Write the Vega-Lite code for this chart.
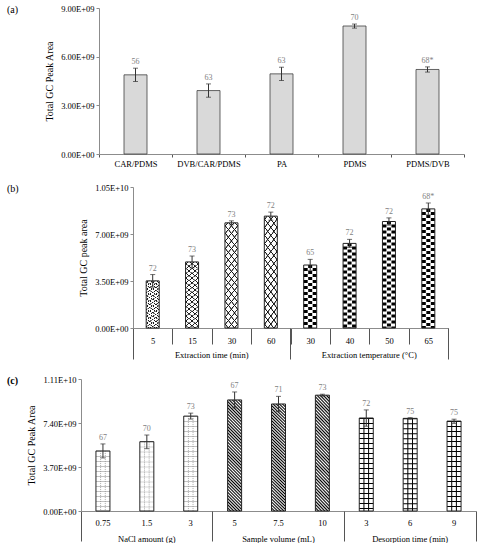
{
  "$schema": "https://vega.github.io/schema/vega-lite/v6.json",
  "padding": {"left": 7, "top": 4, "right": 0, "bottom": 0},
  "background": "white",
  "datasets": {
    "fibre": [
      {"key": "CAR/PDMS", "value": 4.88e9, "lo": 4.47e9, "hi": 5.29e9, "note": "56"},
      {"key": "DVB/CAR/PDMS", "value": 3.91e9, "lo": 3.50e9, "hi": 4.32e9, "note": "63"},
      {"key": "PA", "value": 4.94e9, "lo": 4.53e9, "hi": 5.35e9, "note": "63"},
      {"key": "PDMS", "value": 7.89e9, "lo": 7.76e9, "hi": 8.01e9, "note": "70"},
      {"key": "PDMS/DVB", "value": 5.21e9, "lo": 5.05e9, "hi": 5.37e9, "note": "68*"}
    ],
    "extraction": [
      {"key": "Extraction time (min)|5", "group": "time", "value": 3.51e9, "lo": 3.04e9, "hi": 3.98e9, "note": "72"},
      {"key": "Extraction time (min)|15", "group": "time", "value": 4.92e9, "lo": 4.48e9, "hi": 5.36e9, "note": "73"},
      {"key": "Extraction time (min)|30", "group": "time", "value": 7.83e9, "lo": 7.68e9, "hi": 7.98e9, "note": "73"},
      {"key": "Extraction time (min)|60", "group": "time", "value": 8.33e9, "lo": 8.03e9, "hi": 8.63e9, "note": "72"},
      {"key": "Extraction temperature (°C)|30", "group": "temp", "value": 4.69e9, "lo": 4.27e9, "hi": 5.11e9, "note": "65"},
      {"key": "Extraction temperature (°C)|40", "group": "temp", "value": 6.30e9, "lo": 6.00e9, "hi": 6.60e9, "note": "72"},
      {"key": "Extraction temperature (°C)|50", "group": "temp", "value": 7.93e9, "lo": 7.66e9, "hi": 8.20e9, "note": "72"},
      {"key": "Extraction temperature (°C)|65", "group": "temp", "value": 8.87e9, "lo": 8.43e9, "hi": 9.31e9, "note": "68*"}
    ],
    "conditions": [
      {"key": "NaCl amount (g)|0.75", "group": "nacl", "value": 5.05e9, "lo": 4.46e9, "hi": 5.64e9, "note": "67"},
      {"key": "NaCl amount (g)|1.5", "group": "nacl", "value": 5.83e9, "lo": 5.24e9, "hi": 6.39e9, "note": "70"},
      {"key": "NaCl amount (g)|3", "group": "nacl", "value": 7.98e9, "lo": 7.73e9, "hi": 8.23e9, "note": "73"},
      {"key": "Sample volume (mL)|5", "group": "volume", "value": 9.34e9, "lo": 8.67e9, "hi": 10.01e9, "note": "67"},
      {"key": "Sample volume (mL)|7.5", "group": "volume", "value": 9.00e9, "lo": 8.36e9, "hi": 9.64e9, "note": "71"},
      {"key": "Sample volume (mL)|10", "group": "volume", "value": 9.74e9, "lo": 9.66e9, "hi": 9.82e9, "note": "73"},
      {"key": "Desorption time (min)|3", "group": "desorption", "value": 7.82e9, "lo": 7.13e9, "hi": 8.50e9, "note": "72"},
      {"key": "Desorption time (min)|6", "group": "desorption", "value": 7.79e9, "lo": 7.72e9, "hi": 7.85e9, "note": "75"},
      {"key": "Desorption time (min)|9", "group": "desorption", "value": 7.56e9, "lo": 7.37e9, "hi": 7.72e9, "note": "75"}
    ]
  },
  "concat": [
    {
      "width": 383,
      "height": 146,
      "title": {"text": "(a)"},
      "data": {"name": "fibre"},
      "resolve": {"axis": {"x": "independent", "y": "independent"}},
      "layer": [
        {
          "mark": {"type": "bar", "width": 23, "fill": "#d9d9d9", "stroke": "#404040", "strokeWidth": 0.8},
          "encoding": {
            "x": {"field": "key", "type": "nominal", "sort": null,
              "scale": {"range": [18, 383], "paddingInner": 0, "paddingOuter": 0},
              "axis": {"orient": "bottom", "title": null, "labelAngle": 0, "tickBand": "extent", "tickSize": 3, "labelPadding": 2}},
            "y": {"field": "value", "type": "quantitative",
              "scale": {"domain": [0, 9e9], "nice": false},
              "axis": {"orient": "left", "offset": -18, "title": "Total GC Peak Area", "values": [0, 3e9, 6e9, 9e9],
                "labelExpr": "upper(replace(format(datum.value, '.2e'), regexp('e[+]([0-9])$'), 'e+0$1'))"}}
          }
        },
        {
          "mark": {"type": "errorbar", "color": "#333", "thickness": 1, "size": 5, "ticks": true},
          "encoding": {
            "x": {"field": "key", "type": "nominal", "sort": null, "axis": null},
            "y": {"field": "lo", "type": "quantitative", "axis": null},
            "y2": {"field": "hi"}
          }
        },
        {
          "mark": {"type": "text", "baseline": "bottom", "dy": -2, "fontSize": 8, "color": "#7f7f7f"},
          "encoding": {
            "x": {"field": "key", "type": "nominal", "sort": null, "axis": null},
            "y": {"field": "hi", "type": "quantitative", "axis": null},
            "text": {"field": "note"}
          }
        }
      ]
    },
    {
      "width": 367,
      "height": 141,
      "title": {"text": "(b)"},
      "data": {"name": "extraction"},
      "resolve": {"axis": {"x": "independent", "y": "independent"}},
      "layer": [
        {
          "mark": {"type": "bar", "width": 13, "fill": "#ffffff"},
          "encoding": {
            "x": {"field": "key", "type": "nominal",
              "scale": {"domain": ["Extraction time (min)|5", "Extraction time (min)|15", "Extraction time (min)|30", "Extraction time (min)|60", "Extraction temperature (°C)|30", "Extraction temperature (°C)|40", "Extraction temperature (°C)|50", "Extraction temperature (°C)|65"], "range": [52, 367], "paddingInner": 0, "paddingOuter": 0},
              "axis": {"orient": "bottom", "title": null, "labelAngle": 0, "labelExpr": "split(datum.value, '|')[1]", "tickBand": "extent", "tickSize": 16, "labelPadding": -8}},
            "y": {"field": "value", "type": "quantitative",
              "scale": {"domain": [0, 1.05e10], "nice": false},
              "axis": {"orient": "left", "offset": -52, "title": "Total GC peak area", "values": [0, 3.5e9, 7e9, 1.05e10],
                "labelExpr": "upper(replace(format(datum.value, '.2e'), regexp('e[+]([0-9])$'), 'e+0$1'))"}}
          }
        },
        {
          "transform": [{"filter": "datum.group === 'time'"}],
          "mark": {"type": "bar", "width": 13, "fill": {"gradient": "linear", "x1": 0, "y1": 0, "x2": 0.172, "y2": 1.127, "stops": [
            {"offset": 0, "color": "rgba(0,0,0,0)"},
            {"offset": 0.02, "color": "rgba(0,0,0,0)"}, {"offset": 0.025, "color": "#1a1a1a"}, {"offset": 0.031, "color": "#1a1a1a"}, {"offset": 0.036, "color": "rgba(0,0,0,0)"},
            {"offset": 0.0825, "color": "rgba(0,0,0,0)"}, {"offset": 0.0875, "color": "#1a1a1a"}, {"offset": 0.0935, "color": "#1a1a1a"}, {"offset": 0.0985, "color": "rgba(0,0,0,0)"},
            {"offset": 0.145, "color": "rgba(0,0,0,0)"}, {"offset": 0.15, "color": "#1a1a1a"}, {"offset": 0.156, "color": "#1a1a1a"}, {"offset": 0.161, "color": "rgba(0,0,0,0)"},
            {"offset": 0.2075, "color": "rgba(0,0,0,0)"}, {"offset": 0.2125, "color": "#1a1a1a"}, {"offset": 0.2185, "color": "#1a1a1a"}, {"offset": 0.2235, "color": "rgba(0,0,0,0)"},
            {"offset": 0.27, "color": "rgba(0,0,0,0)"}, {"offset": 0.275, "color": "#1a1a1a"}, {"offset": 0.281, "color": "#1a1a1a"}, {"offset": 0.286, "color": "rgba(0,0,0,0)"},
            {"offset": 0.3325, "color": "rgba(0,0,0,0)"}, {"offset": 0.3375, "color": "#1a1a1a"}, {"offset": 0.3435, "color": "#1a1a1a"}, {"offset": 0.3485, "color": "rgba(0,0,0,0)"},
            {"offset": 0.395, "color": "rgba(0,0,0,0)"}, {"offset": 0.4, "color": "#1a1a1a"}, {"offset": 0.406, "color": "#1a1a1a"}, {"offset": 0.411, "color": "rgba(0,0,0,0)"},
            {"offset": 0.4575, "color": "rgba(0,0,0,0)"}, {"offset": 0.4625, "color": "#1a1a1a"}, {"offset": 0.4685, "color": "#1a1a1a"}, {"offset": 0.4735, "color": "rgba(0,0,0,0)"},
            {"offset": 0.52, "color": "rgba(0,0,0,0)"}, {"offset": 0.525, "color": "#1a1a1a"}, {"offset": 0.531, "color": "#1a1a1a"}, {"offset": 0.536, "color": "rgba(0,0,0,0)"},
            {"offset": 0.5825, "color": "rgba(0,0,0,0)"}, {"offset": 0.5875, "color": "#1a1a1a"}, {"offset": 0.5935, "color": "#1a1a1a"}, {"offset": 0.5985, "color": "rgba(0,0,0,0)"},
            {"offset": 0.645, "color": "rgba(0,0,0,0)"}, {"offset": 0.65, "color": "#1a1a1a"}, {"offset": 0.656, "color": "#1a1a1a"}, {"offset": 0.661, "color": "rgba(0,0,0,0)"},
            {"offset": 0.7075, "color": "rgba(0,0,0,0)"}, {"offset": 0.7125, "color": "#1a1a1a"}, {"offset": 0.7185, "color": "#1a1a1a"}, {"offset": 0.7235, "color": "rgba(0,0,0,0)"},
            {"offset": 0.77, "color": "rgba(0,0,0,0)"}, {"offset": 0.775, "color": "#1a1a1a"}, {"offset": 0.781, "color": "#1a1a1a"}, {"offset": 0.786, "color": "rgba(0,0,0,0)"},
            {"offset": 0.8325, "color": "rgba(0,0,0,0)"}, {"offset": 0.8375, "color": "#1a1a1a"}, {"offset": 0.8435, "color": "#1a1a1a"}, {"offset": 0.8485, "color": "rgba(0,0,0,0)"},
            {"offset": 0.895, "color": "rgba(0,0,0,0)"}, {"offset": 0.9, "color": "#1a1a1a"}, {"offset": 0.906, "color": "#1a1a1a"}, {"offset": 0.911, "color": "rgba(0,0,0,0)"},
            {"offset": 0.9575, "color": "rgba(0,0,0,0)"}, {"offset": 0.9625, "color": "#1a1a1a"}, {"offset": 0.9685, "color": "#1a1a1a"}, {"offset": 0.9735, "color": "rgba(0,0,0,0)"},
            {"offset": 1, "color": "rgba(0,0,0,0)"}
          ]}},
          "encoding": {
            "x": {"field": "key", "type": "nominal",
              "axis": {"orient": "bottom", "title": null, "values": ["Extraction time (min)|5", "Extraction temperature (°C)|30"], "bandPosition": 0, "labels": false, "domain": false, "tickSize": 31}},
            "y": {"field": "value", "type": "quantitative", "axis": null}
          }
        },
        {
          "transform": [{"filter": "datum.group === 'time'"}],
          "mark": {"type": "bar", "width": 13, "fill": {"gradient": "linear", "x1": 1, "y1": 0, "x2": 0.828, "y2": 1.127, "stops": [
            {"offset": 0, "color": "rgba(0,0,0,0)"},
            {"offset": 0.02, "color": "rgba(0,0,0,0)"}, {"offset": 0.025, "color": "#1a1a1a"}, {"offset": 0.031, "color": "#1a1a1a"}, {"offset": 0.036, "color": "rgba(0,0,0,0)"},
            {"offset": 0.0825, "color": "rgba(0,0,0,0)"}, {"offset": 0.0875, "color": "#1a1a1a"}, {"offset": 0.0935, "color": "#1a1a1a"}, {"offset": 0.0985, "color": "rgba(0,0,0,0)"},
            {"offset": 0.145, "color": "rgba(0,0,0,0)"}, {"offset": 0.15, "color": "#1a1a1a"}, {"offset": 0.156, "color": "#1a1a1a"}, {"offset": 0.161, "color": "rgba(0,0,0,0)"},
            {"offset": 0.2075, "color": "rgba(0,0,0,0)"}, {"offset": 0.2125, "color": "#1a1a1a"}, {"offset": 0.2185, "color": "#1a1a1a"}, {"offset": 0.2235, "color": "rgba(0,0,0,0)"},
            {"offset": 0.27, "color": "rgba(0,0,0,0)"}, {"offset": 0.275, "color": "#1a1a1a"}, {"offset": 0.281, "color": "#1a1a1a"}, {"offset": 0.286, "color": "rgba(0,0,0,0)"},
            {"offset": 0.3325, "color": "rgba(0,0,0,0)"}, {"offset": 0.3375, "color": "#1a1a1a"}, {"offset": 0.3435, "color": "#1a1a1a"}, {"offset": 0.3485, "color": "rgba(0,0,0,0)"},
            {"offset": 0.395, "color": "rgba(0,0,0,0)"}, {"offset": 0.4, "color": "#1a1a1a"}, {"offset": 0.406, "color": "#1a1a1a"}, {"offset": 0.411, "color": "rgba(0,0,0,0)"},
            {"offset": 0.4575, "color": "rgba(0,0,0,0)"}, {"offset": 0.4625, "color": "#1a1a1a"}, {"offset": 0.4685, "color": "#1a1a1a"}, {"offset": 0.4735, "color": "rgba(0,0,0,0)"},
            {"offset": 0.52, "color": "rgba(0,0,0,0)"}, {"offset": 0.525, "color": "#1a1a1a"}, {"offset": 0.531, "color": "#1a1a1a"}, {"offset": 0.536, "color": "rgba(0,0,0,0)"},
            {"offset": 0.5825, "color": "rgba(0,0,0,0)"}, {"offset": 0.5875, "color": "#1a1a1a"}, {"offset": 0.5935, "color": "#1a1a1a"}, {"offset": 0.5985, "color": "rgba(0,0,0,0)"},
            {"offset": 0.645, "color": "rgba(0,0,0,0)"}, {"offset": 0.65, "color": "#1a1a1a"}, {"offset": 0.656, "color": "#1a1a1a"}, {"offset": 0.661, "color": "rgba(0,0,0,0)"},
            {"offset": 0.7075, "color": "rgba(0,0,0,0)"}, {"offset": 0.7125, "color": "#1a1a1a"}, {"offset": 0.7185, "color": "#1a1a1a"}, {"offset": 0.7235, "color": "rgba(0,0,0,0)"},
            {"offset": 0.77, "color": "rgba(0,0,0,0)"}, {"offset": 0.775, "color": "#1a1a1a"}, {"offset": 0.781, "color": "#1a1a1a"}, {"offset": 0.786, "color": "rgba(0,0,0,0)"},
            {"offset": 0.8325, "color": "rgba(0,0,0,0)"}, {"offset": 0.8375, "color": "#1a1a1a"}, {"offset": 0.8435, "color": "#1a1a1a"}, {"offset": 0.8485, "color": "rgba(0,0,0,0)"},
            {"offset": 0.895, "color": "rgba(0,0,0,0)"}, {"offset": 0.9, "color": "#1a1a1a"}, {"offset": 0.906, "color": "#1a1a1a"}, {"offset": 0.911, "color": "rgba(0,0,0,0)"},
            {"offset": 0.9575, "color": "rgba(0,0,0,0)"}, {"offset": 0.9625, "color": "#1a1a1a"}, {"offset": 0.9685, "color": "#1a1a1a"}, {"offset": 0.9735, "color": "rgba(0,0,0,0)"},
            {"offset": 1, "color": "rgba(0,0,0,0)"}
          ]}},
          "encoding": {
            "x": {"field": "key", "type": "nominal",
              "axis": {"orient": "bottom", "title": null, "values": ["Extraction temperature (°C)|65"], "bandPosition": 1, "labels": false, "domain": false, "tickSize": 31}},
            "y": {"field": "value", "type": "quantitative", "axis": null}
          }
        },
        {
          "transform": [{"filter": "datum.group === 'temp'"}],
          "mark": {"type": "rule", "color": "#000", "strokeWidth": 4, "strokeDash": [3, 3]},
          "encoding": {
            "x": {"field": "key", "type": "nominal", "axis": null},
            "y": {"field": "value", "type": "quantitative", "axis": null},
            "y2": {"datum": 0}
          }
        },
        {
          "transform": [{"filter": "datum.group === 'temp'"}],
          "mark": {"type": "rule", "color": "#000", "strokeWidth": 4, "strokeDash": [3, 3], "strokeDashOffset": 3, "xOffset": -4.5},
          "encoding": {
            "x": {"field": "key", "type": "nominal", "axis": null},
            "y": {"field": "value", "type": "quantitative", "axis": null},
            "y2": {"datum": 0}
          }
        },
        {
          "transform": [{"filter": "datum.group === 'temp'"}],
          "mark": {"type": "rule", "color": "#000", "strokeWidth": 4, "strokeDash": [3, 3], "strokeDashOffset": 3, "xOffset": 4.5},
          "encoding": {
            "x": {"field": "key", "type": "nominal", "axis": null},
            "y": {"field": "value", "type": "quantitative", "axis": null},
            "y2": {"datum": 0}
          }
        },
        {
          "mark": {"type": "bar", "width": 13, "fill": "#ffffff", "fillOpacity": 0, "stroke": "#222", "strokeWidth": 1},
          "encoding": {
            "x": {"field": "key", "type": "nominal", "axis": null},
            "y": {"field": "value", "type": "quantitative", "axis": null}
          }
        },
        {
          "mark": {"type": "errorbar", "color": "#333", "thickness": 1, "size": 5, "ticks": true},
          "encoding": {
            "x": {"field": "key", "type": "nominal", "axis": null},
            "y": {"field": "lo", "type": "quantitative", "axis": null},
            "y2": {"field": "hi"}
          }
        },
        {
          "mark": {"type": "text", "baseline": "bottom", "dy": -2, "fontSize": 8, "color": "#7f7f7f"},
          "encoding": {
            "x": {"field": "key", "type": "nominal",
              "axis": {"orient": "bottom", "title": null, "labelAngle": 0, "values": ["Extraction time (min)|30", "Extraction temperature (°C)|50"], "labelExpr": "split(datum.value, '|')[0]", "labelOffset": -19.7, "labelOverlap": false, "ticks": false, "tickSize": 0, "domain": false, "labelPadding": 22.5}},
            "y": {"field": "hi", "type": "quantitative", "axis": null},
            "text": {"field": "note"}
          }
        }
      ]
    },
    {
      "width": 395,
      "height": 132,
      "title": {"text": "(c)", "fontWeight": "bold"},
      "data": {"name": "conditions"},
      "resolve": {"axis": {"x": "independent", "y": "independent"}},
      "layer": [
        {
          "mark": {"type": "bar", "width": 14, "fill": "#ffffff"},
          "encoding": {
            "x": {"field": "key", "type": "nominal",
              "scale": {"domain": ["NaCl amount (g)|0.75", "NaCl amount (g)|1.5", "NaCl amount (g)|3", "Sample volume (mL)|5", "Sample volume (mL)|7.5", "Sample volume (mL)|10", "Desorption time (min)|3", "Desorption time (min)|6", "Desorption time (min)|9"], "paddingInner": 0, "paddingOuter": 0},
              "axis": {"orient": "bottom", "title": null, "labelAngle": 0, "labelExpr": "split(datum.value, '|')[1]", "ticks": false, "tickSize": 0, "labelPadding": 7.6}},
            "y": {"field": "value", "type": "quantitative",
              "scale": {"domain": [0, 1.11e10], "nice": false},
              "axis": {"orient": "left", "title": "Total GC Peak Area", "values": [0, 3.7e9, 7.4e9, 1.11e10],
                "labelExpr": "upper(replace(format(datum.value, '.2e'), regexp('e[+]([0-9])$'), 'e+0$1'))"}}
          }
        },
        {
          "transform": [{"filter": "datum.group === 'nacl'"}],
          "mark": {"type": "rule", "color": "#b0b0b0", "strokeWidth": 14, "strokeDash": [0.7, 4.3]},
          "encoding": {
            "x": {"field": "key", "type": "nominal", "axis": null},
            "y": {"field": "value", "type": "quantitative", "axis": null},
            "y2": {"datum": 0}
          }
        },
        {
          "transform": [{"filter": "datum.group === 'nacl'"}],
          "mark": {"type": "rule", "color": "#888", "strokeWidth": 0.7, "strokeDash": [1, 1], "xOffset": -2.33},
          "encoding": {
            "x": {"field": "key", "type": "nominal", "axis": null},
            "y": {"field": "value", "type": "quantitative", "axis": null},
            "y2": {"datum": 0}
          }
        },
        {
          "transform": [{"filter": "datum.group === 'nacl'"}],
          "mark": {"type": "rule", "color": "#888", "strokeWidth": 0.7, "strokeDash": [1, 1], "xOffset": 2.33},
          "encoding": {
            "x": {"field": "key", "type": "nominal", "axis": null},
            "y": {"field": "value", "type": "quantitative", "axis": null},
            "y2": {"datum": 0}
          }
        },
        {
          "transform": [{"filter": "datum.group === 'volume'"}],
          "mark": {"type": "bar", "width": 14, "fill": {"gradient": "linear", "x1": 1, "y1": 0, "x2": 0.859, "y2": 1.109, "stops": [
            {"offset": 0, "color": "#000"}, {"offset": 0.0125, "color": "#fff"}, {"offset": 0.025, "color": "#000"}, {"offset": 0.0375, "color": "#fff"},
            {"offset": 0.05, "color": "#000"}, {"offset": 0.0625, "color": "#fff"}, {"offset": 0.075, "color": "#000"}, {"offset": 0.0875, "color": "#fff"},
            {"offset": 0.1, "color": "#000"}, {"offset": 0.1125, "color": "#fff"}, {"offset": 0.125, "color": "#000"}, {"offset": 0.1375, "color": "#fff"},
            {"offset": 0.15, "color": "#000"}, {"offset": 0.1625, "color": "#fff"}, {"offset": 0.175, "color": "#000"}, {"offset": 0.1875, "color": "#fff"},
            {"offset": 0.2, "color": "#000"}, {"offset": 0.2125, "color": "#fff"}, {"offset": 0.225, "color": "#000"}, {"offset": 0.2375, "color": "#fff"},
            {"offset": 0.25, "color": "#000"}, {"offset": 0.2625, "color": "#fff"}, {"offset": 0.275, "color": "#000"}, {"offset": 0.2875, "color": "#fff"},
            {"offset": 0.3, "color": "#000"}, {"offset": 0.3125, "color": "#fff"}, {"offset": 0.325, "color": "#000"}, {"offset": 0.3375, "color": "#fff"},
            {"offset": 0.35, "color": "#000"}, {"offset": 0.3625, "color": "#fff"}, {"offset": 0.375, "color": "#000"}, {"offset": 0.3875, "color": "#fff"},
            {"offset": 0.4, "color": "#000"}, {"offset": 0.4125, "color": "#fff"}, {"offset": 0.425, "color": "#000"}, {"offset": 0.4375, "color": "#fff"},
            {"offset": 0.45, "color": "#000"}, {"offset": 0.4625, "color": "#fff"}, {"offset": 0.475, "color": "#000"}, {"offset": 0.4875, "color": "#fff"},
            {"offset": 0.5, "color": "#000"}, {"offset": 0.5125, "color": "#fff"}, {"offset": 0.525, "color": "#000"}, {"offset": 0.5375, "color": "#fff"},
            {"offset": 0.55, "color": "#000"}, {"offset": 0.5625, "color": "#fff"}, {"offset": 0.575, "color": "#000"}, {"offset": 0.5875, "color": "#fff"},
            {"offset": 0.6, "color": "#000"}, {"offset": 0.6125, "color": "#fff"}, {"offset": 0.625, "color": "#000"}, {"offset": 0.6375, "color": "#fff"},
            {"offset": 0.65, "color": "#000"}, {"offset": 0.6625, "color": "#fff"}, {"offset": 0.675, "color": "#000"}, {"offset": 0.6875, "color": "#fff"},
            {"offset": 0.7, "color": "#000"}, {"offset": 0.7125, "color": "#fff"}, {"offset": 0.725, "color": "#000"}, {"offset": 0.7375, "color": "#fff"},
            {"offset": 0.75, "color": "#000"}, {"offset": 0.7625, "color": "#fff"}, {"offset": 0.775, "color": "#000"}, {"offset": 0.7875, "color": "#fff"},
            {"offset": 0.8, "color": "#000"}, {"offset": 0.8125, "color": "#fff"}, {"offset": 0.825, "color": "#000"}, {"offset": 0.8375, "color": "#fff"},
            {"offset": 0.85, "color": "#000"}, {"offset": 0.8625, "color": "#fff"}, {"offset": 0.875, "color": "#000"}, {"offset": 0.8875, "color": "#fff"},
            {"offset": 0.9, "color": "#000"}, {"offset": 0.9125, "color": "#fff"}, {"offset": 0.925, "color": "#000"}, {"offset": 0.9375, "color": "#fff"},
            {"offset": 0.95, "color": "#000"}, {"offset": 0.9625, "color": "#fff"}, {"offset": 0.975, "color": "#000"}, {"offset": 0.9875, "color": "#fff"},
            {"offset": 1, "color": "#000"}
          ]}},
          "encoding": {
            "x": {"field": "key", "type": "nominal",
              "axis": {"orient": "bottom", "title": null, "values": ["NaCl amount (g)|0.75", "Sample volume (mL)|5", "Desorption time (min)|3"], "bandPosition": 0, "labels": false, "domain": false, "tickSize": 30}},
            "y": {"field": "value", "type": "quantitative", "axis": null}
          }
        },
        {
          "transform": [{"filter": "datum.group === 'desorption'"}],
          "mark": {"type": "rule", "color": "#000", "strokeWidth": 14, "strokeDash": [1, 4]},
          "encoding": {
            "x": {"field": "key", "type": "nominal",
              "axis": {"orient": "bottom", "title": null, "values": ["Desorption time (min)|9"], "bandPosition": 1, "labels": false, "domain": false, "tickSize": 30}},
            "y": {"field": "value", "type": "quantitative", "axis": null},
            "y2": {"datum": 0}
          }
        },
        {
          "transform": [{"filter": "datum.group === 'desorption'"}],
          "mark": {"type": "rule", "color": "#000", "strokeWidth": 1, "xOffset": -2.33},
          "encoding": {
            "x": {"field": "key", "type": "nominal", "axis": null},
            "y": {"field": "value", "type": "quantitative", "axis": null},
            "y2": {"datum": 0}
          }
        },
        {
          "transform": [{"filter": "datum.group === 'desorption'"}],
          "mark": {"type": "rule", "color": "#000", "strokeWidth": 1, "xOffset": 2.33},
          "encoding": {
            "x": {"field": "key", "type": "nominal", "axis": null},
            "y": {"field": "value", "type": "quantitative", "axis": null},
            "y2": {"datum": 0}
          }
        },
        {
          "mark": {"type": "bar", "width": 14, "fill": "#ffffff", "fillOpacity": 0, "stroke": "#222", "strokeWidth": 1},
          "encoding": {
            "x": {"field": "key", "type": "nominal", "axis": null},
            "y": {"field": "value", "type": "quantitative", "axis": null}
          }
        },
        {
          "mark": {"type": "errorbar", "color": "#333", "thickness": 1, "size": 5, "ticks": true},
          "encoding": {
            "x": {"field": "key", "type": "nominal", "axis": null},
            "y": {"field": "lo", "type": "quantitative", "axis": null},
            "y2": {"field": "hi"}
          }
        },
        {
          "mark": {"type": "text", "baseline": "bottom", "dy": -2, "fontSize": 8, "color": "#7f7f7f"},
          "encoding": {
            "x": {"field": "key", "type": "nominal",
              "axis": {"orient": "bottom", "title": null, "labelAngle": 0, "values": ["NaCl amount (g)|1.5", "Sample volume (mL)|7.5", "Desorption time (min)|6"], "labelExpr": "split(datum.value, '|')[0]", "labelOverlap": false, "ticks": false, "tickSize": 0, "domain": false, "labelPadding": 23.2}},
            "y": {"field": "hi", "type": "quantitative", "axis": null},
            "text": {"field": "note"}
          }
        }
      ]
    }
  ],
  "columns": 1,
  "spacing": 15,
  "config": {
    "font": "Liberation Serif",
    "view": {"stroke": null},
    "title": {"font": "Liberation Serif", "fontSize": 10, "fontWeight": "normal", "color": "#000", "anchor": "start", "frame": "group", "offset": 0, "baseline": "middle", "dx": -74, "dy": 15},
    "axis": {"grid": false, "labelFont": "Liberation Serif", "labelFontSize": 8.5, "labelColor": "#000", "titleFont": "Liberation Serif", "titleFontSize": 10, "titleFontWeight": "normal", "titleColor": "#000", "domainColor": "#8c8c8c", "tickColor": "#555"},
    "axisY": {"tickSize": 3, "labelPadding": 2, "titlePadding": 6, "tickColor": "#8c8c8c"}
  }
}
